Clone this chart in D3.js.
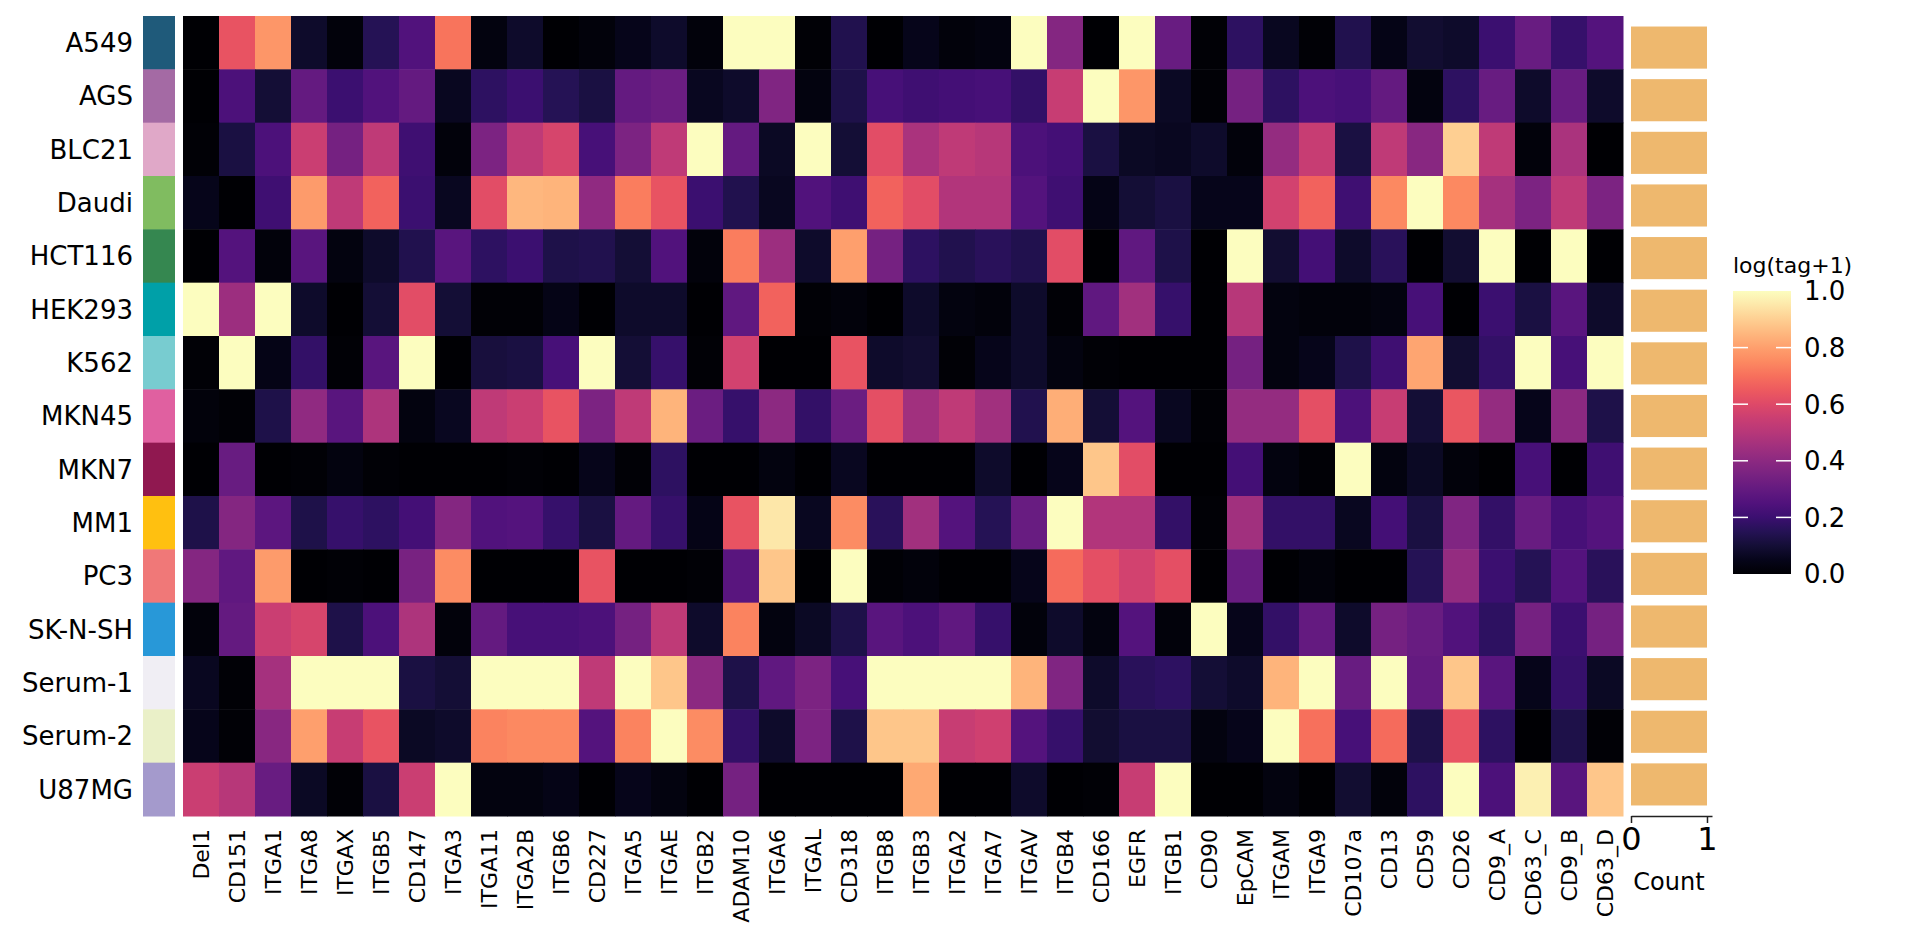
<!DOCTYPE html>
<html>
<head>
<meta charset="utf-8">
<script src="https://cdn.jsdelivr.net/npm/d3@7"></script>
<style>
  body { margin: 0; background: #fff; }
  text { font-family: "DejaVu Sans", sans-serif; fill: #000; }
</style>
</head>
<body>
<svg id="chart"></svg>
<script>
const cellLines = ['A549', 'AGS', 'BLC21', 'Daudi', 'HCT116', 'HEK293', 'K562', 'MKN45', 'MKN7', 'MM1', 'PC3', 'SK-N-SH', 'Serum-1', 'Serum-2', 'U87MG'];
const lineColors = ['#1f5a7a', '#a46aa4', '#e0a8c8', '#80bc60', '#358750', '#00a0a8', '#78ccd0', '#e060a0', '#901850', '#ffc010', '#f07878', '#2898d8', '#f0eef4', '#eaf0c8', '#a49acc'];
const markers = ['Del1', 'CD151', 'ITGA1', 'ITGA8', 'ITGAX', 'ITGB5', 'CD147', 'ITGA3', 'ITGA11', 'ITGA2B', 'ITGB6', 'CD227', 'ITGA5', 'ITGAE', 'ITGB2', 'ADAM10', 'ITGA6', 'ITGAL', 'CD318', 'ITGB8', 'ITGB3', 'ITGA2', 'ITGA7', 'ITGAV', 'ITGB4', 'CD166', 'EGFR', 'ITGB1', 'CD90', 'EpCAM', 'ITGAM', 'ITGA9', 'CD107a', 'CD13', 'CD59', 'CD26', 'CD9_A', 'CD63_C', 'CD9_B', 'CD63_D'];

// log(tag+1), one row per cell line, columns in marker order
const vA549   = [0.0, 0.63, 0.78, 0.08, 0.02, 0.15, 0.25, 0.71, 0.03, 0.08, 0.0, 0.02, 0.05, 0.08, 0.02, 1.0, 1.0, 0.01, 0.14, 0.0, 0.05, 0.02, 0.03, 1.0, 0.38, 0.0, 1.0, 0.31, 0.01, 0.17, 0.06, 0.01, 0.14, 0.04, 0.09, 0.08, 0.2, 0.31, 0.19, 0.26];
const vAGS    = [0.0, 0.24, 0.1, 0.3, 0.2, 0.25, 0.3, 0.06, 0.17, 0.2, 0.15, 0.12, 0.3, 0.32, 0.06, 0.08, 0.37, 0.03, 0.13, 0.23, 0.21, 0.22, 0.23, 0.18, 0.54, 1.0, 0.78, 0.07, 0.01, 0.34, 0.17, 0.24, 0.23, 0.3, 0.03, 0.17, 0.31, 0.08, 0.31, 0.08];
const vBLC21  = [0.01, 0.12, 0.24, 0.55, 0.34, 0.52, 0.21, 0.02, 0.36, 0.52, 0.58, 0.23, 0.36, 0.52, 1.0, 0.3, 0.07, 1.0, 0.1, 0.61, 0.47, 0.52, 0.5, 0.24, 0.22, 0.12, 0.07, 0.06, 0.08, 0.02, 0.42, 0.54, 0.12, 0.52, 0.39, 0.9, 0.52, 0.02, 0.47, 0.0];
const vDaudi  = [0.05, 0.0, 0.21, 0.79, 0.52, 0.67, 0.2, 0.06, 0.61, 0.85, 0.84, 0.41, 0.73, 0.63, 0.2, 0.14, 0.06, 0.25, 0.21, 0.67, 0.61, 0.49, 0.49, 0.26, 0.21, 0.04, 0.1, 0.12, 0.05, 0.05, 0.57, 0.67, 0.21, 0.75, 1.0, 0.75, 0.46, 0.36, 0.52, 0.36];
const vHCT116 = [0.0, 0.26, 0.02, 0.27, 0.03, 0.08, 0.14, 0.27, 0.17, 0.2, 0.13, 0.14, 0.1, 0.25, 0.02, 0.73, 0.44, 0.08, 0.8, 0.34, 0.17, 0.14, 0.16, 0.14, 0.61, 0.0, 0.29, 0.13, 0.0, 1.0, 0.09, 0.22, 0.08, 0.16, 0.0, 0.09, 1.0, 0.0, 1.0, 0.0];
const vHEK293 = [1.0, 0.44, 1.0, 0.08, 0.0, 0.1, 0.61, 0.1, 0.01, 0.01, 0.04, 0.0, 0.08, 0.08, 0.0, 0.29, 0.67, 0.01, 0.02, 0.0, 0.08, 0.03, 0.02, 0.08, 0.01, 0.29, 0.45, 0.19, 0.0, 0.5, 0.03, 0.02, 0.02, 0.03, 0.23, 0.0, 0.2, 0.12, 0.27, 0.08];
const vK562   = [0.01, 1.0, 0.04, 0.18, 0.01, 0.27, 1.0, 0.0, 0.11, 0.12, 0.23, 1.0, 0.1, 0.19, 0.01, 0.57, 0.0, 0.0, 0.63, 0.08, 0.09, 0.01, 0.05, 0.08, 0.03, 0.01, 0.0, 0.0, 0.0, 0.34, 0.03, 0.05, 0.13, 0.21, 0.81, 0.09, 0.18, 1.0, 0.23, 1.0];
const vMKN45  = [0.02, 0.01, 0.13, 0.41, 0.27, 0.48, 0.03, 0.06, 0.52, 0.55, 0.63, 0.36, 0.52, 0.84, 0.32, 0.19, 0.4, 0.18, 0.32, 0.62, 0.45, 0.52, 0.45, 0.14, 0.83, 0.1, 0.26, 0.06, 0.01, 0.42, 0.42, 0.62, 0.24, 0.54, 0.1, 0.64, 0.42, 0.05, 0.4, 0.13];
const vMKN7   = [0.0, 0.31, 0.0, 0.01, 0.03, 0.01, 0.0, 0.0, 0.0, 0.01, 0.0, 0.05, 0.01, 0.17, 0.0, 0.0, 0.03, 0.0, 0.06, 0.0, 0.0, 0.0, 0.08, 0.0, 0.05, 0.88, 0.61, 0.0, 0.0, 0.22, 0.03, 0.01, 1.0, 0.03, 0.07, 0.02, 0.0, 0.23, 0.0, 0.21];
const vMM1    = [0.13, 0.38, 0.28, 0.13, 0.19, 0.17, 0.22, 0.38, 0.25, 0.26, 0.19, 0.12, 0.3, 0.19, 0.04, 0.63, 0.95, 0.06, 0.76, 0.16, 0.45, 0.26, 0.15, 0.31, 1.0, 0.49, 0.49, 0.18, 0.01, 0.45, 0.18, 0.18, 0.06, 0.22, 0.12, 0.37, 0.18, 0.31, 0.23, 0.26];
const vPC3    = [0.38, 0.29, 0.79, 0.0, 0.01, 0.0, 0.35, 0.76, 0.0, 0.0, 0.0, 0.63, 0.0, 0.0, 0.01, 0.27, 0.88, 0.0, 1.0, 0.01, 0.02, 0.0, 0.0, 0.05, 0.69, 0.62, 0.57, 0.62, 0.0, 0.31, 0.0, 0.02, 0.0, 0.0, 0.15, 0.42, 0.2, 0.15, 0.26, 0.16];
const vSKNSH  = [0.02, 0.3, 0.55, 0.58, 0.13, 0.24, 0.48, 0.02, 0.3, 0.23, 0.23, 0.24, 0.34, 0.52, 0.08, 0.74, 0.03, 0.07, 0.13, 0.27, 0.24, 0.29, 0.19, 0.02, 0.08, 0.03, 0.26, 0.02, 1.0, 0.05, 0.18, 0.3, 0.08, 0.34, 0.31, 0.25, 0.17, 0.34, 0.2, 0.34];
const vSerum1 = [0.06, 0.01, 0.46, 1.0, 1.0, 1.0, 0.12, 0.1, 1.0, 1.0, 1.0, 0.52, 1.0, 0.88, 0.4, 0.13, 0.29, 0.36, 0.23, 1.0, 1.0, 1.0, 1.0, 0.84, 0.37, 0.08, 0.16, 0.17, 0.1, 0.08, 0.84, 1.0, 0.31, 1.0, 0.3, 0.88, 0.27, 0.05, 0.19, 0.07];
const vSerum2 = [0.05, 0.01, 0.39, 0.8, 0.54, 0.63, 0.07, 0.08, 0.74, 0.75, 0.75, 0.26, 0.74, 1.0, 0.76, 0.18, 0.08, 0.36, 0.13, 0.88, 0.88, 0.54, 0.56, 0.26, 0.19, 0.09, 0.12, 0.12, 0.03, 0.05, 1.0, 0.7, 0.23, 0.69, 0.13, 0.63, 0.17, 0.0, 0.13, 0.01];
const vU87MG  = [0.55, 0.5, 0.31, 0.07, 0.01, 0.12, 0.55, 1.0, 0.03, 0.03, 0.04, 0.0, 0.05, 0.03, 0.0, 0.34, 0.0, 0.0, 0.0, 0.0, 0.82, 0.0, 0.0, 0.08, 0.0, 0.01, 0.54, 1.0, 0.0, 0.0, 0.03, 0.0, 0.09, 0.02, 0.17, 1.0, 0.24, 0.97, 0.27, 0.88];

const counts = [1, 1, 1, 1, 1, 1, 1, 1, 1, 1, 1, 1, 1, 1, 1];
const colorbarTicks = [0.0, 0.2, 0.4, 0.6, 0.8, 1.0];
const countTicks = [0, 1];

const matrix = [vA549, vAGS, vBLC21, vDaudi, vHCT116, vHEK293, vK562, vMKN45, vMKN7, vMM1, vPC3, vSKNSH, vSerum1, vSerum2, vU87MG];

const W = 1932, H = 939;

let svg = d3.select('#chart')
  .attr('width', W)
  .attr('height', H);

let xScale = d3.scaleBand()
  .domain(markers)
  .range([183, 1623]);

let yScale = d3.scaleBand()
  .domain(cellLines)
  .range([16, 816]);

let color = d3.scaleSequential(d3.interpolateMagma)
  .domain([0, 1]);

// flatten to cells
let cells = [];
matrix.forEach((row, i) => {
  row.forEach((v, j) => {
    cells.push({ line: cellLines[i], marker: markers[j], value: v });
  });
});

svg.append('g')
  .selectAll('rect')
  .data(cells)
  .enter()
  .append('rect')
  .attr('x', d => xScale(d.marker))
  .attr('y', d => yScale(d.line))
  .attr('width', xScale.bandwidth() + 0.5)
  .attr('height', yScale.bandwidth() + 0.5)
  .attr('fill', d => color(d.value));

// row colour strip
svg.append('g')
  .selectAll('rect')
  .data(cellLines)
  .enter()
  .append('rect')
  .attr('x', 143)
  .attr('y', d => yScale(d))
  .attr('width', 32)
  .attr('height', yScale.bandwidth() + 0.5)
  .attr('fill', (d, i) => lineColors[i]);

// row labels
svg.append('g')
  .selectAll('text')
  .data(cellLines)
  .enter()
  .append('text')
  .attr('x', 133)
  .attr('y', d => yScale(d) + yScale.bandwidth() / 2)
  .attr('dy', '0.36em')
  .attr('text-anchor', 'end')
  .style('font-size', '26px')
  .text(d => d);

// column labels, rotated
svg.append('g')
  .selectAll('text')
  .data(markers)
  .enter()
  .append('text')
  .attr('transform', d => 'translate(' + (xScale(d) + xScale.bandwidth() / 2) + ',829) rotate(-90)')
  .attr('dy', '0.36em')
  .attr('text-anchor', 'end')
  .style('font-size', '22px')
  .text(d => d);

// count bars on the right
let countX = d3.scaleLinear()
  .domain([0, 1.066])
  .range([1631, 1712]);

let countY = d3.scaleBand()
  .domain(cellLines)
  .range([16, 816])
  .padding(0.2);

svg.append('g')
  .selectAll('rect')
  .data(counts)
  .enter()
  .append('rect')
  .attr('x', countX(0))
  .attr('y', (d, i) => countY(cellLines[i]))
  .attr('width', d => countX(d) - countX(0))
  .attr('height', countY.bandwidth())
  .attr('fill', '#eeb86e');

let countAxis = svg.append('g')
  .attr('transform', 'translate(0,816)')
  .call(d3.axisBottom(countX)
    .tickValues(countTicks)
    .tickFormat(d3.format('d'))
    .tickSize(7)
    .tickSizeOuter(0));

countAxis.select('.domain')
  .attr('stroke', '#222')
  .attr('stroke-width', 1.5);
countAxis.selectAll('.tick line')
  .attr('stroke', '#222')
  .attr('stroke-width', 1.5);
countAxis.selectAll('.tick text')
  .attr('y', 10)
  .attr('dy', '0.75em')
  .style('font-size', '32px')
  .style('font-family', '"DejaVu Sans", sans-serif');

svg.append('text')
  .attr('x', (countX(0) + countX(1)) / 2)
  .attr('y', 890)
  .attr('text-anchor', 'middle')
  .style('font-size', '24px')
  .text('Count');

// colour bar
let cbX = 1733, cbW = 58;
let cbScale = d3.scaleLinear()
  .domain([0, 1])
  .range([574, 291]);

let grad = svg.append('defs')
  .append('linearGradient')
  .attr('id', 'magma')
  .attr('x1', 0).attr('y1', 1)
  .attr('x2', 0).attr('y2', 0);

grad.selectAll('stop')
  .data(d3.range(0, 1.0001, 0.05))
  .enter()
  .append('stop')
  .attr('offset', d => d)
  .attr('stop-color', d => color(d));

svg.append('rect')
  .attr('x', cbX)
  .attr('y', cbScale(1))
  .attr('width', cbW)
  .attr('height', cbScale(0) - cbScale(1))
  .attr('fill', 'url(#magma)');

// white ticks inside the bar, both edges
let inner = colorbarTicks.filter(t => t > 0 && t < 1);
svg.append('g')
  .selectAll('line')
  .data(inner.concat(inner))
  .enter()
  .append('line')
  .attr('x1', (d, i) => i < inner.length ? cbX : cbX + cbW - 15)
  .attr('x2', (d, i) => i < inner.length ? cbX + 15 : cbX + cbW)
  .attr('y1', d => cbScale(d))
  .attr('y2', d => cbScale(d))
  .attr('stroke', '#fff')
  .attr('stroke-width', 1.5);

svg.append('g')
  .selectAll('text')
  .data(colorbarTicks)
  .enter()
  .append('text')
  .attr('x', cbX + cbW + 13)
  .attr('y', d => cbScale(d))
  .attr('dy', '0.36em')
  .style('font-size', '26px')
  .text(d => d.toFixed(1));

svg.append('text')
  .attr('x', cbX)
  .attr('y', 273)
  .style('font-size', '22px')
  .text('log(tag+1)');
</script>
</body>
</html>
